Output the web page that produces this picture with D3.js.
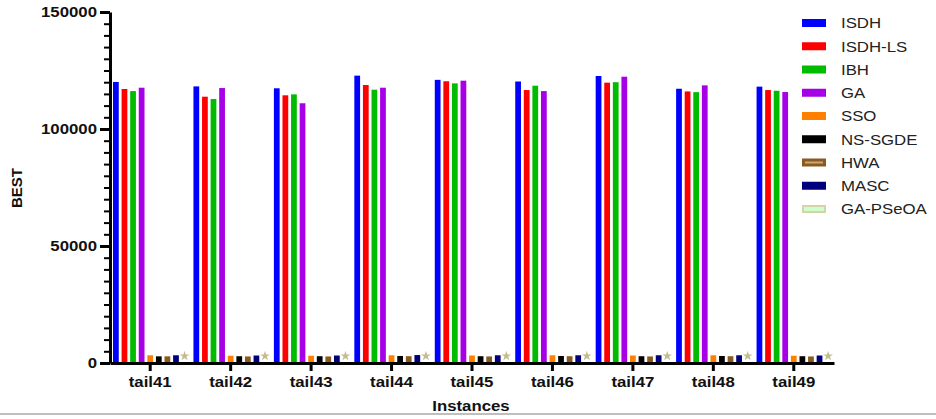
<!DOCTYPE html>
<html>
<head>
<meta charset="utf-8">
<script src="https://cdn.jsdelivr.net/npm/d3@7"></script>
<style>
  body { margin: 0; background: #fff; }
  svg { display: block; font-family: "Liberation Sans", Arial, sans-serif; }
  .sx { transform-box: fill-box; transform-origin: center; transform: scaleX(1.12); }
  .sxl { transform-box: fill-box; transform-origin: left center; transform: scaleX(1.12); }
  .sxr { transform-box: fill-box; transform-origin: right center; transform: scaleX(1.12); }
</style>
</head>
<body>
<svg id="chart" width="936" height="419"></svg>
<script>
const categories = ['tail41', 'tail42', 'tail43', 'tail44', 'tail45', 'tail46', 'tail47', 'tail48', 'tail49'];
const seriesNames = ['ISDH', 'ISDH-LS', 'IBH', 'GA', 'SSO', 'NS-SGDE', 'HWA', 'MASC', 'GA-PSeOA'];
const seriesColors = ['#0000ff', '#ff0000', '#00bb00', '#a600e6', '#ff8000', '#000000', '#8b5a1e', '#00007f', '#ccffcc'];

const isdh    = [120100, 118200, 117400, 122800, 121000, 120300, 122650, 117200, 118100];
const isdhLs  = [117100, 113800, 114400, 118800, 120400, 116650, 119800, 116050, 116650];
const ibh     = [116200, 112800, 114800, 116800, 119500, 118500, 120000, 115750, 116350];
const ga      = [117650, 117500, 111000, 117650, 120650, 116200, 122350, 118650, 115800];
const sso     = [3300, 3100, 3100, 3300, 3200, 3300, 3200, 3300, 3100];
const nsSgde  = [2850, 2900, 2900, 3000, 2900, 3000, 2900, 3000, 2900];
const hwa     = [2850, 2800, 2800, 2900, 2800, 2900, 2800, 2900, 2800];
const masc    = [3300, 3200, 3200, 3400, 3300, 3300, 3300, 3300, 3200];
const gaPseoa = [3000, 3000, 3000, 3000, 3000, 3000, 3000, 3000, 3000];

const yTicks = [0, 50000, 100000, 150000];

const allSeries = [isdh, isdhLs, ibh, ga, sso, nsSgde, hwa, masc, gaPseoa];
const rows = categories.map((c, i) => ({
    cat: c,
    values: seriesNames.map((s, j) => ({ name: s, color: seriesColors[j], value: allSeries[j][i] }))
}));

const svg = d3.select('#chart');

// page border line at the bottom
svg.append('line')
    .attr('x1', 0).attr('x2', 936).attr('y1', 414).attr('y2', 414)
    .attr('stroke', '#aaa').attr('stroke-width', 1.5);

const x0 = d3.scaleBand().domain(categories).range([110, 834]).padding(0);
const x1 = d3.scaleBand().domain(seriesNames).range([0, x0.bandwidth()])
    .paddingInner(0.33).paddingOuter(0.35);
const y = d3.scaleLinear().domain([0, 150000]).range([363, 12]);

const groups = svg.append('g').selectAll('g')
    .data(rows)
    .enter().append('g')
    .attr('transform', d => `translate(${x0(d.cat)},0)`);

groups.selectAll('rect')
    .data(d => d.values.filter(v => v.name !== 'GA-PSeOA'))
    .enter().append('rect')
    .attr('x', d => x1(d.name))
    .attr('y', d => y(d.value))
    .attr('width', x1.bandwidth())
    .attr('height', d => y(0) - y(d.value))
    .attr('fill', d => d.color);

// GA-PSeOA drawn as star markers
groups.selectAll('path.star')
    .data(d => d.values.filter(v => v.name === 'GA-PSeOA'))
    .enter().append('path')
    .attr('class', 'star')
    .attr('d', d3.symbol(d3.symbolStar).size(30))
    .attr('transform', d => `translate(${x1(d.name) + x1.bandwidth() / 2},${y(d.value)})`)
    .attr('fill', '#c4bc8e');

// y axis: minor then major ticks
const minorTicks = d3.range(0, 150001, 5000);
const yMinor = svg.append('g').attr('transform', 'translate(110,0)')
    .call(d3.axisLeft(y).tickValues(minorTicks).tickSize(6).tickSizeOuter(0).tickFormat(''));
yMinor.selectAll('line').attr('stroke-width', 2);
yMinor.select('.domain').remove();

const yAxis = svg.append('g').attr('transform', 'translate(110,0)')
    .call(d3.axisLeft(y).tickValues(yTicks).tickSize(10).tickSizeOuter(0).tickPadding(3).tickFormat(d3.format('d')));
yAxis.select('.domain').attr('stroke-width', 3);
yAxis.selectAll('line').attr('stroke-width', 3);
yAxis.selectAll('text')
    .attr('font-size', 15).attr('font-weight', 'bold').attr('fill', '#111')
    .attr('class', 'sxr');

// x axis
const xAxis = svg.append('g').attr('transform', 'translate(0,363)')
    .call(d3.axisBottom(x0).tickSize(8).tickSizeOuter(0).tickPadding(5));
xAxis.select('.domain').attr('stroke-width', 3);
xAxis.selectAll('line').attr('stroke-width', 3);
xAxis.selectAll('text')
    .attr('font-size', 15).attr('font-weight', 'bold').attr('fill', '#111')
    .attr('class', 'sx');

svg.append('text')
    .attr('transform', 'translate(22,188) rotate(-90)')
    .attr('text-anchor', 'middle')
    .attr('font-size', 15).attr('font-weight', 'bold').attr('fill', '#111')
    .text('BEST');

svg.append('text')
    .attr('x', 471).attr('y', 411)
    .attr('text-anchor', 'middle')
    .attr('font-size', 15).attr('font-weight', 'bold').attr('fill', '#111')
    .attr('class', 'sx')
    .text('Instances');

// legend
const ly = d3.scalePoint().domain(seriesNames).range([23, 209]);
const legend = svg.append('g').selectAll('g')
    .data(seriesNames)
    .enter().append('g')
    .attr('transform', d => `translate(802,${ly(d)})`);

legend.append('rect')
    .attr('x', 0).attr('y', -4).attr('width', 24).attr('height', 8)
    .attr('fill', (d, i) => seriesColors[i]);

legend.filter(d => d === 'HWA').append('rect')
    .attr('x', 3).attr('y', -1).attr('width', 18).attr('height', 2).attr('fill', '#c9a878');
legend.filter(d => d === 'GA-PSeOA').select('rect')
    .attr('stroke', '#d8d2a8').attr('stroke-width', 2)
    .attr('x', 1).attr('y', -3).attr('width', 22).attr('height', 6);

legend.append('text')
    .attr('x', 39).attr('dy', '0.36em')
    .attr('font-size', 15).attr('fill', '#222')
    .attr('class', 'sxl')
    .text(d => d);
</script>
</body>
</html>
